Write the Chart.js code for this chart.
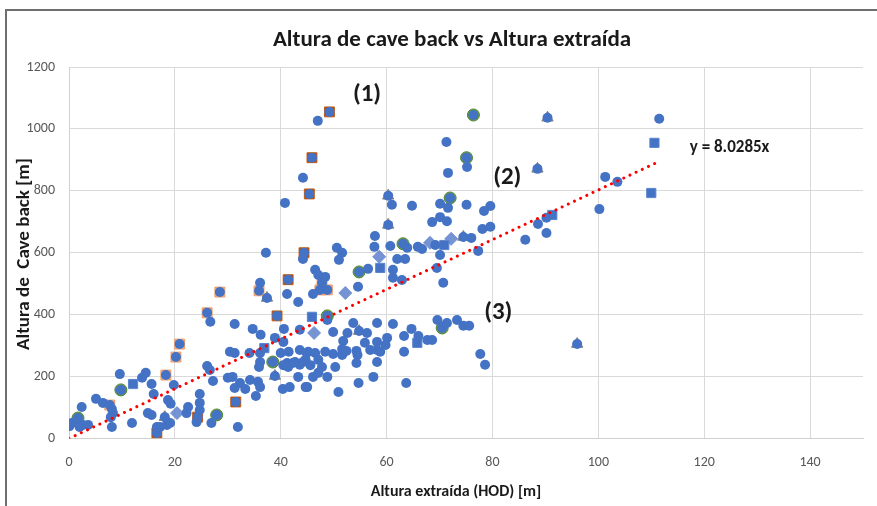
<!DOCTYPE html>
<html>
<head>
<meta charset="utf-8">
<script src="https://cdn.jsdelivr.net/npm/chart.js@4.4.1/dist/chart.umd.min.js"></script>
<style>
  body { margin: 0; background: #fff; }
  #wrap { position: relative; width: 877px; height: 506px; overflow: hidden; }
  #frame { position: absolute; left: 5px; top: 9px; width: 900px; height: 520px;
           border-left: 2px solid #6f6f6f; border-top: 2px solid #6f6f6f; }
  canvas { position: absolute; left: 0; top: 0; }
</style>
</head>
<body>
<div id="wrap">
  <div id="frame"></div>
  <canvas id="chart" width="877" height="506"></canvas>
</div>
<script>
'use strict';

// Texts
const chartTitle = 'Altura de cave back vs Altura extraída';
const xTitle = 'Altura extraída (HOD) [m]';
const yTitle = 'Altura de  Cave back [m]';

// Axis ranges / ticks
const xTicks = [0, 150, 20];   // [min, max, step]
const yTicks = [0, 1200, 200];

// Blue circles (main series) - HOD [m], cave back [m]
const blueX = [47.0, 49.2, 76.4, 90.4, 111.5, 44.2, 45.9, 45.4, 71.3, 75.1, 75.2, 71.6, 88.5, 101.3, 103.6, 100.2, 90.2, 88.6, 90.2, 86.2,
  40.8, 60.3, 61.0, 64.8, 70.1, 72.0, 71.6, 75.1, 79.6, 78.4, 68.6, 70.1, 71.4, 79.6, 78.1, 57.8, 57.7, 60.7, 63.1, 63.9,
  65.9, 66.7, 69.2, 74.5, 76.0, 77.3, 70.1, 37.2, 44.4, 50.6, 51.6, 51.0, 44.2, 62.0, 63.5, 69.5, 70.7, 61.2, 61.2, 62.9,
  54.8, 56.5, 41.4, 46.5, 47.1, 48.4, 47.8, 47.4, 48.8, 46.1, 54.6, 41.2, 43.3, 36.1, 35.9, 28.5, 37.4, 26.1, 26.7, 31.3,
  39.3, 34.7, 36.2, 20.9, 20.2, 30.4, 31.3, 34.1, 36.1, 36.1, 35.9, 38.9, 40.6, 40.0, 41.5, 43.6, 44.9, 38.5, 9.6, 9.8,
  13.8, 14.5, 15.6, 16.0, 18.3, 19.8, 18.7, 19.2, 22.5, 24.7, 24.7, 24.7, 26.1, 26.6, 27.2, 30.0, 30.9, 31.5, 32.3, 33.3,
  31.3, 34.2, 35.7, 35.3, 36.1, 38.9, 40.4, 41.7, 44.7, 41.2, 42.3, 43.6, 44.7, 2.4, 5.1, 6.4, 7.7, 8.1, 8.3, 7.9,
  0.5, 1.1, 1.7, 2.6, 3.6, 0.1, 2.0, 1.7, 8.1, 11.9, 14.9, 15.6, 16.6, 16.6, 18.1, 18.5, 19.1, 17.2, 22.2, 24.1,
  24.3, 26.9, 27.9, 31.9, 48.8, 48.8, 40.5, 53.7, 58.2, 61.2, 49.9, 52.6, 54.8, 56.3, 51.8, 55.9, 58.2, 60.1, 63.3, 64.7,
  66.0, 67.7, 68.6, 69.6, 71.4, 73.3, 70.5, 74.5, 75.6, 63.3, 77.7, 78.6, 45.2, 46.5, 48.4, 49.9, 51.6, 52.4, 54.3, 58.2,
  58.8, 40.5, 41.4, 42.7, 44.2, 45.6, 47.1, 47.8, 51.6, 54.5, 56.9, 59.8, 43.3, 45.0, 46.1, 47.1, 48.8, 50.3, 54.3, 58.2,
  50.9, 54.7, 57.5, 63.7, 43.6, 96.0, 60.3];
const blueY = [1026, 1055, 1045, 1036, 1033, 842, 907, 790, 958, 907, 877, 858, 871, 845, 829, 741, 713, 693, 664, 642,
  761, 784, 755, 752, 758, 777, 745, 755, 751, 735, 699, 715, 702, 684, 677, 654, 619, 622, 629, 616,
  619, 612, 625, 651, 648, 606, 593, 600, 600, 616, 600, 577, 580, 580, 580, 551, 503, 545, 519, 512,
  538, 548, 513, 545, 528, 522, 503, 480, 480, 467, 490, 467, 441, 503, 477, 473, 454, 406, 377, 370,
  396, 354, 335, 305, 263, 280, 276, 276, 276, 247, 231, 325, 354, 276, 280, 286, 276, 247, 208, 157,
  196, 212, 176, 144, 205, 173, 124, 112, 102, 144, 115, 92, 234, 221, 186, 196, 199, 118, 179, 160,
  163, 189, 183, 137, 166, 202, 160, 166, 166, 244, 244, 238, 254, 102, 128, 115, 108, 95, 82, 69,
  50, 53, 50, 44, 44, 40, 37, 66, 37, 50, 82, 76, 37, 18, 69, 44, 50, 37, 82, 53,
  69, 50, 76, 37, 396, 383, 312, 373, 373, 370, 344, 341, 347, 341, 315, 309, 312, 325, 331, 354,
  331, 318, 318, 383, 373, 383, 357, 364, 364, 280, 273, 238, 280, 276, 280, 273, 289, 283, 283, 286,
  280, 237, 231, 247, 247, 237, 254, 231, 270, 270, 286, 302, 199, 166, 199, 212, 199, 231, 244, 247,
  150, 179, 199, 179, 351, 305, 690];

// Brown squares
const brownX = [49.2, 45.9, 45.4, 44.4, 41.4, 39.3, 31.5, 24.3, 16.6];
const brownY = [1055, 907, 790, 600, 513, 396, 118, 69, 18];

// Salmon squares
const salmonX = [47.8, 47.4, 48.8, 35.9, 28.5, 26.1, 20.9, 20.2, 18.3, 7.7];
const salmonY = [503, 480, 480, 477, 473, 406, 305, 263, 205, 108];

// Blue squares
const squareX = [45.9, 36.9, 12.1, 58.8, 70.9, 91.3, 110.6, 110.0, 65.8];
const squareY = [393, 292, 176, 551, 625, 722, 955, 793, 309];

// Diamonds
const diamondX = [58.6, 52.2, 46.3, 20.4, 68.2, 72.2];
const diamondY = [587, 470, 341, 82, 632, 645];

// Green circles
const greenX = [76.4, 75.1, 72.0, 63.1, 54.8, 48.8, 38.5, 27.9, 9.8, 1.7, 70.5];
const greenY = [1045, 907, 777, 629, 538, 396, 247, 76, 157, 66, 357];

// Grey triangles
const triX = [90.4, 88.5, 60.3, 60.3, 37.4, 18.1, 38.9, 54.8, 74.5, 96.0];
const triY = [1036, 871, 784, 690, 454, 69, 202, 347, 651, 305];

// Linear trendline through origin
const trendSlope = 8.0285;
const trendX = [0, 111.3];
const trendLabel = 'y = 8.0285x';

// Text annotations [label, x, y]
const notes = [['(1)', 56.3, 1110], ['(2)', 82.8, 842], ['(3)', 81.1, 406]];

const FONT = 'Carlito, Lato, "Liberation Sans", sans-serif';

let toPoints = (xs, ys) => xs.map((x, i) => ({ x: x, y: ys[i] }));

function markerSet(xs, ys, style, radius, fill, border, bw) {
  return {
    type: 'scatter',
    data: toPoints(xs, ys),
    pointStyle: style,
    pointRadius: radius,
    pointBackgroundColor: fill,
    pointBorderColor: border,
    pointBorderWidth: bw,
    pointHoverRadius: radius
  };
}

// draws chart title, axis titles and the labels inside the plot
const textPlugin = {
  id: 'texts',
  afterDraw(chart) {
    const ctx = chart.ctx;
    const xs = chart.scales.x;
    const ys = chart.scales.y;
    ctx.save();
    ctx.fillStyle = '#1a1a1a';
    ctx.textAlign = 'center';
    ctx.textBaseline = 'middle';

    ctx.font = 'bold 23px ' + FONT;
    ctx.fillText(chartTitle, 452, 40);

    ctx.font = 'bold 16px ' + FONT;
    ctx.fillText(xTitle, 456, 492);

    ctx.save();
    ctx.translate(24, 254);
    ctx.rotate(-Math.PI / 2);
    ctx.font = 'bold 19px ' + FONT;
    ctx.fillText(yTitle, 0, 0);
    ctx.restore();

    ctx.font = 'bold 25px ' + FONT;
    notes.forEach(function(n) {
      ctx.fillText(n[0], xs.getPixelForValue(n[1]), ys.getPixelForValue(n[2]));
    });

    ctx.font = 'bold 17px ' + FONT;
    ctx.fillText(trendLabel, xs.getPixelForValue(124.8), ys.getPixelForValue(939));
    ctx.restore();
  }
};

const ctx = document.getElementById('chart').getContext('2d');
/* eslint-disable-next-line no-unused-vars */
const chart = new Chart(ctx, {
  type: 'scatter',
  data: {
    datasets: [
      {
        type: 'line',
        data: trendX.map(x => ({ x: x, y: trendSlope * x })),
        borderColor: '#ff0000',
        borderWidth: 3,
        borderDash: [0.01, 6.8],
        borderCapStyle: 'round',
        pointRadius: 0,
        fill: false
      },
      markerSet(blueX, blueY, 'circle', 5, '#4472c4', '#4472c4', 0),
      markerSet(greenX, greenY, 'circle', 6, '#62a03e', '#548235', 1),
      markerSet(triX, triY, 'triangle', 6.5, '#8c8c8c', '#7f7f7f', 1),
      markerSet(brownX, brownY, 'rect', 7, '#a0521f', '#c55a11', 1),
      markerSet(salmonX, salmonY, 'rect', 7, '#f4b183', '#f09a66', 1),
      markerSet(squareX, squareY, 'rect', 6.5, '#4472c4', '#5b86d0', 1),
      markerSet(diamondX, diamondY, 'rectRot', 6.5, 'rgba(94,128,205,0.85)', 'rgba(110,140,210,0.9)', 1)
    ]
  },
  options: {
    responsive: false,
    animation: false,
    devicePixelRatio: 1,
    layout: { padding: { top: 67, right: 14, left: 0, bottom: 0 } },
    plugins: { legend: { display: false }, tooltip: { enabled: false } },
    scales: {
      x: {
        type: 'linear',
        min: xTicks[0],
        max: xTicks[1],
        afterFit: s => { s.height = 67.5; },
        ticks: { stepSize: xTicks[2], includeBounds: false, color: '#595959', padding: 16,
          font: { family: FONT, size: 14 }, callback: v => String(v) },
        grid: { color: '#d9d9d9', lineWidth: 1, drawTicks: false },
        border: { color: '#d0d0d0', width: 1 }
      },
      y: {
        type: 'linear',
        min: yTicks[0],
        max: yTicks[1],
        afterFit: s => { s.width = 69; },
        ticks: { stepSize: yTicks[2], color: '#595959', padding: 14,
          font: { family: FONT, size: 14 }, callback: v => String(v) },
        grid: { color: '#d9d9d9', lineWidth: 1, drawTicks: false },
        border: { color: '#d0d0d0', width: 1 }
      }
    }
  },
  plugins: [textPlugin]
});
</script>
</body>
</html>
